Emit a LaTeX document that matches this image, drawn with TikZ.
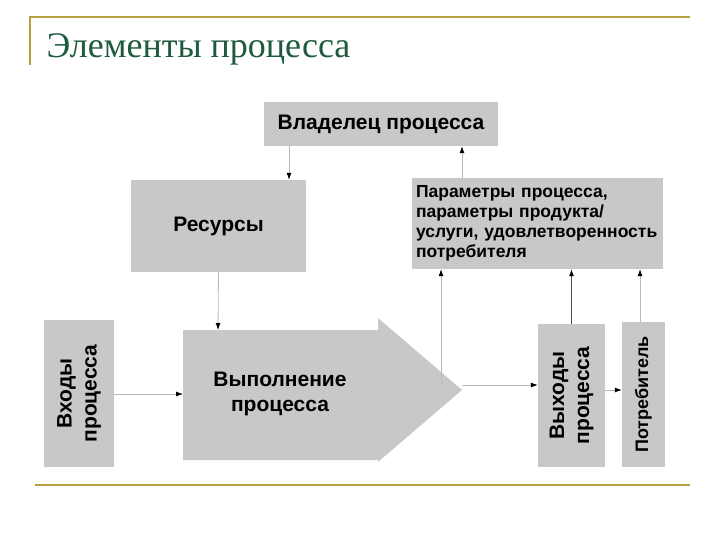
\documentclass[tikz,border=0pt]{standalone}
\usepackage{fontspec}
\setmainfont{Liberation Serif}
\newfontfamily\bsans{Liberation Sans}
\usetikzlibrary{arrows.meta}
\definecolor{boxgray}{HTML}{C8C8C8}
\definecolor{gold}{HTML}{B8A040}
\definecolor{titlegreen}{HTML}{1E5A3E}
\definecolor{lgray}{HTML}{B8B8B8}
\tikzset{
  box/.style={fill=boxgray,draw=none,inner sep=0pt,font=\bsans\bfseries\fontsize{21}{25}\selectfont,align=center},
  big/.style={font=\bsans\bfseries\fontsize{21}{25}\selectfont,align=center},
  conn/.style={draw=lgray,line width=0.8pt,-{Latex[black,length=7pt,width=5pt]}},
  dconn/.style={draw=black!70,line width=1pt,-{Latex[black,length=7pt,width=5pt]}}
}
\begin{document}
\begin{tikzpicture}[x=1pt,y=-1pt]
\useasboundingbox (0,0) rectangle (720,540);
\draw[gold,line width=1.2pt] (30,65) -- (30,17) -- (690,17);
\draw[gold,line width=1.2pt] (35,485) -- (690,485);
\node[anchor=base west,text=titlegreen,font=\fontsize{36}{40}\selectfont] (title) at (43,58) {Элементы процесса};

\node[box,minimum width=234pt,minimum height=44pt] (own) at (381,124) {Владелец процесса};
\node[box,minimum width=175pt,minimum height=92pt] (res) at (218.5,226) {Ресурсы};
\node[box,minimum width=251pt,minimum height=91pt,font=\bsans\bfseries\fontsize{17.5}{20}\selectfont,align=left,text width=243pt] (par) at (537.5,223.5) {Параметры процесса,\\параметры продукта/\\услуги, удовлетворенность\\потребителя};
\node[box,minimum width=70pt,minimum height=147pt] (in) at (79,393.5) {};
\node[rotate=90,big] at (in) {Входы\\процесса};
\fill[boxgray] (183,330) -- (378,330) -- (378,318) -- (462,390) -- (378,462) -- (378,460) -- (183,460) -- cycle;
\node[big] (proc) at (280,394) {Выполнение\\процесса};
\coordinate (mainL) at (183,394);
\coordinate (mainT) at (218,330);
\coordinate (tip) at (462,385);
\node[box,minimum width=67pt,minimum height=143pt] (out) at (571.5,395.5) {};
\node[rotate=90,big] at (out) {Выходы\\процесса};
\node[box,minimum width=43pt,minimum height=145pt] (cons) at (643.5,394.5) {};
\node[rotate=90,font=\bsans\bfseries\fontsize{18}{20}\selectfont] at (cons) {Потребитель};

\draw[conn] (own.south -| 289,0) -- (res.north -| 289,0);
\draw[conn] (par.north -| 462,0) -- (own.south -| 462,0);
\draw[conn] (res.south) -- (mainT);
\draw[conn] (in.east |- mainL) -- (mainL);
\draw[conn] (tip) -- (out.west |- tip);
\coordinate (br) at (441,385);
\draw[conn] (br) -- (par.south -| br);
\draw[dconn] (out.north) -- (par.south -| out.north);
\draw[conn] (out.east |- 0,390) -- (cons.west |- 0,390);
\draw[conn] (cons.north -| 640,0) -- (par.south -| 640,0);
\end{tikzpicture}
\end{document}
